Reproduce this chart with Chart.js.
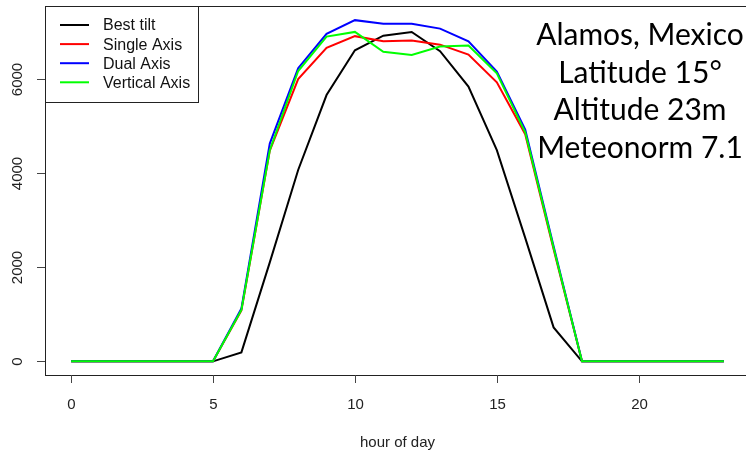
<!DOCTYPE html>
<html>
<head>
<meta charset="utf-8">
<script src="https://cdn.jsdelivr.net/npm/chart.js@4/dist/chart.umd.min.js"></script>
<style>
  html, body { margin: 0; padding: 0; background: #fff; overflow: hidden; }
  #wrap { width: 752px; height: 454px; }
</style>
</head>
<body>
<div id="wrap"><canvas id="chart" width="752" height="454"></canvas></div>
<script>
// hourly output per tracking mode
const hours = [0,1,2,3,4,5,6,7,8,9,10,11,12,13,14,15,16,17,18,19,20,21,22,23];
const bestTilt = [0,0,0,0,0,0,190,2100,4060,5650,6600,6910,6990,6580,5830,4480,2620,720,0,0,0,0,0,0];
const singleAxis = [0,0,0,0,0,0,1080,4470,5990,6650,6900,6790,6810,6720,6510,5920,4820,2380,0,0,0,0,0,0];
const dualAxis = [0,0,0,0,0,0,1120,4620,6220,6950,7240,7165,7165,7060,6790,6150,4920,2440,0,0,0,0,0,0];
const verticalAxis = [0,0,0,0,0,0,1090,4480,6160,6890,6990,6570,6500,6680,6700,6110,4860,2410,0,0,0,0,0,0];

const seriesNames = ["Best tilt", "Single Axis", "Dual Axis", "Vertical Axis"];
const seriesColors = ["#000000", "#ff0000", "#0000ff", "#00ff00"];

const xTicks = [0, 5, 10, 15, 20];
const yTicks = [0, 2000, 4000, 6000];
const xTitle = "hour of day";
const noteLines = ["Alamos, Mexico", "Latitude 15°", "Altitude 23m", "Meteonorm 7.1"];

function points(values) {
    return hours.map((h, i) => ({ x: h, y: values[i] }));
}

const allSeries = [bestTilt, singleAxis, dualAxis, verticalAxis];

// box, ticks, legend and the site note drawn R-style
const rStyle = {
    id: "rStyle",
    afterDatasetsDraw(chart) {
        const ctx = chart.ctx;
        const area = chart.chartArea;
        const xs = chart.scales.x;
        const ys = chart.scales.y;

        ctx.save();
        ctx.strokeStyle = "#222";
        ctx.lineWidth = 1;
        ctx.strokeRect(Math.round(area.left) + 0.5, Math.round(area.top) + 0.5,
            area.right - area.left, area.bottom - area.top);

        // x axis
        ctx.strokeStyle = "#444";
        ctx.fillStyle = "#222";
        ctx.font = "15px 'Liberation Sans', Arial, sans-serif";
        ctx.textAlign = "center";
        ctx.textBaseline = "middle";
        xTicks.forEach(t => {
            const px = Math.round(xs.getPixelForValue(t)) + 0.5;
            ctx.beginPath();
            ctx.moveTo(px, area.bottom);
            ctx.lineTo(px, area.bottom + 8);
            ctx.stroke();
            ctx.fillText(String(t), px, area.bottom + 30);
        });
        ctx.fillText(xTitle, (area.left + 750) / 2, 443);

        // y axis, labels turned sideways
        yTicks.forEach(t => {
            const py = Math.round(ys.getPixelForValue(t)) + 0.5;
            ctx.beginPath();
            ctx.moveTo(area.left, py);
            ctx.lineTo(area.left - 8, py);
            ctx.stroke();
            ctx.save();
            ctx.translate(area.left - 27, py);
            ctx.rotate(-Math.PI / 2);
            ctx.fillText(String(t), 0, 0);
            ctx.restore();
        });

        // legend
        const lx = area.left, ly = area.top;
        ctx.fillStyle = "#fff";
        ctx.fillRect(lx, ly, 153, 96);
        ctx.strokeStyle = "#222";
        ctx.strokeRect(lx + 0.5, ly + 0.5, 153, 96);
        ctx.font = "16px 'Liberation Sans', Arial, sans-serif";
        ctx.textAlign = "left";
        chart.data.datasets.forEach((ds, i) => {
            const rowY = ly + 19 + i * 19.1;
            ctx.strokeStyle = ds.borderColor;
            ctx.lineWidth = 2;
            ctx.beginPath();
            ctx.moveTo(lx + 15, rowY);
            ctx.lineTo(lx + 44, rowY);
            ctx.stroke();
            ctx.fillStyle = "#111";
            ctx.fillText(ds.label, lx + 58, rowY + 1);
        });

        // site note
        ctx.fillStyle = "#000";
        ctx.font = "30px Lato, sans-serif";
        ctx.textAlign = "center";
        ctx.textBaseline = "alphabetic";
        noteLines.forEach((line, i) => {
            ctx.fillText(line, 640, 45 + i * 37.7);
        });
        ctx.restore();
    }
};

const ctx = document.getElementById("chart").getContext("2d");

new Chart(ctx, {
    type: "line",
    data: {
        datasets: allSeries.map((values, i) => ({
            label: seriesNames[i],
            data: points(values),
            borderColor: seriesColors[i],
            backgroundColor: seriesColors[i],
            borderWidth: 2,
            pointRadius: 0,
            tension: 0,
            fill: false,
            order: allSeries.length - i
        }))
    },
    options: {
        responsive: false,
        animation: false,
        devicePixelRatio: 1,
        layout: { padding: { left: 45, top: 6, right: 2, bottom: 79 } },
        plugins: {
            legend: { display: false },
            tooltip: { enabled: false }
        },
        scales: {
            x: { type: "linear", min: -0.92, max: 23.92, display: false },
            y: { type: "linear", min: -290, max: 7540, display: false }
        }
    },
    plugins: [rStyle]
});
</script>
</body>
</html>
